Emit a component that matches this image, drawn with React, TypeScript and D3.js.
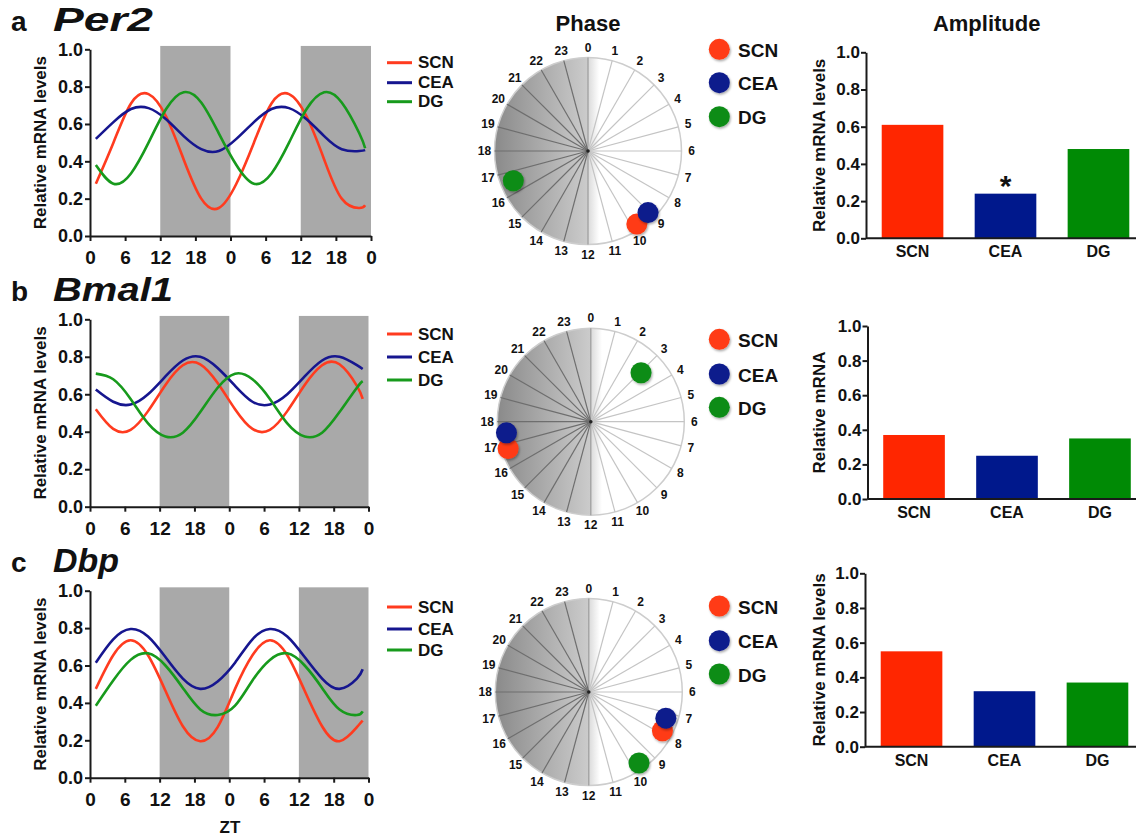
import React, { useEffect, useRef } from 'react';
import * as d3 from 'd3';

// Tissues / colours
const TISSUES = ['SCN', 'CEA', 'DG'];
const LINE_COLORS = ['#ff3b1f', '#16168f', '#179a1c'];
const BAR_COLORS = ['#ff2600', '#00188c', '#008a05'];
const DOT_COLORS = ['#ff3a12', '#0b1a8c', '#0b8c16'];

// x axis (ZT hours, two days)
const ZT_HOURS = [1, 4, 7, 10, 13, 16, 19, 22, 25, 28, 31, 34, 37, 40, 43, 46, 47];
const X_TICKS = [0, 6, 12, 18, 24, 30, 36, 42, 48];
const X_TICK_LABELS = ['0', '6', '12', '18', '0', '6', '12', '18', '0'];
const DARK_PERIODS = [[12, 24], [36, 48]];
const Y_TICKS = [0, 0.2, 0.4, 0.6, 0.8, 1.0];
const CLOCK_HOURS = [0, 1, 2, 3, 4, 5, 6, 7, 8, 9, 10, 11, 12, 13, 14, 15, 16, 17, 18, 19, 20, 21, 22, 23];

// Per2 curves
const per2SCN = [0.28, 0.5, 0.71, 0.76, 0.64, 0.41, 0.2, 0.15, 0.28, 0.5, 0.71, 0.76, 0.64, 0.41, 0.2, 0.15, 0.165];
const per2CEA = [0.52, 0.61, 0.68, 0.685, 0.625, 0.535, 0.465, 0.455, 0.52, 0.61, 0.68, 0.685, 0.625, 0.535, 0.465, 0.455, 0.46];
const per2DG = [0.38, 0.28, 0.335, 0.5, 0.68, 0.77, 0.715, 0.55, 0.38, 0.28, 0.335, 0.5, 0.68, 0.77, 0.715, 0.55, 0.47];
// Bmal1 curves
const bmal1SCN = [0.52, 0.415, 0.41, 0.51, 0.65, 0.755, 0.76, 0.66, 0.52, 0.415, 0.41, 0.51, 0.65, 0.755, 0.76, 0.645, 0.575];
const bmal1CEA = [0.625, 0.56, 0.545, 0.6, 0.695, 0.78, 0.8, 0.74, 0.645, 0.56, 0.545, 0.6, 0.695, 0.78, 0.8, 0.755, 0.735];
const bmal1DG = [0.71, 0.68, 0.575, 0.445, 0.375, 0.395, 0.505, 0.635, 0.71, 0.68, 0.575, 0.445, 0.375, 0.395, 0.505, 0.635, 0.67];
// Dbp curves
const dbpSCN = [0.475, 0.655, 0.735, 0.655, 0.465, 0.275, 0.195, 0.27, 0.475, 0.655, 0.735, 0.655, 0.465, 0.275, 0.195, 0.27, 0.305];
const dbpCEA = [0.615, 0.74, 0.795, 0.755, 0.645, 0.53, 0.475, 0.515, 0.615, 0.74, 0.795, 0.755, 0.645, 0.53, 0.475, 0.53, 0.58];
const dbpDG = [0.385, 0.52, 0.63, 0.665, 0.6, 0.48, 0.365, 0.335, 0.385, 0.52, 0.63, 0.665, 0.6, 0.48, 0.365, 0.335, 0.355];

// Phase (peak hour) and radial position
const phasePer2 = [9.75, 9.05, 16.55];
const phaseRPer2 = [0.94, 0.92, 0.86];
const phaseBmal1 = [16.8, 17.5, 3.05];
const phaseRBmal1 = [0.93, 0.91, 0.75];
const phaseDbp = [7.85, 7.25, 9.65];
const phaseRDbp = [0.89, 0.87, 0.93];

// Amplitudes
const ampPer2 = [0.61, 0.24, 0.48];
const ampBmal1 = [0.37, 0.25, 0.35];
const ampDbp = [0.55, 0.32, 0.37];

const FONT = '"Liberation Sans", Arial, Helvetica, sans-serif';

const ROWS = [
  {
    letter: 'a', gene: 'Per2', geneWidth: 100, series: [per2SCN, per2CEA, per2DG],
    phase: phasePer2, phaseR: phaseRPer2, amp: ampPer2, star: true, barTitle: 'Relative mRNA levels',
    titleY: 31, line: { top: 49.3, bottom: 236, left: 90, right: 371 }, legendYs: [62.7, 82.7, 101.7],
    phaseC: [588, 151], phaseLegendYs: [49.3, 82.7, 116.7], bar: { top: 52.3, bottom: 238.3, left: 866 },
  },
  {
    letter: 'b', gene: 'Bmal1', geneWidth: 120, series: [bmal1SCN, bmal1CEA, bmal1DG],
    phase: phaseBmal1, phaseR: phaseRBmal1, amp: ampBmal1, star: false, barTitle: 'Relative mRNA',
    titleY: 301, line: { top: 319.3, bottom: 506.7, left: 90, right: 368.5 }, legendYs: [334, 357, 380],
    phaseC: [590.8, 421.7], phaseLegendYs: [339.3, 374, 407.3], bar: { top: 326, bottom: 499, left: 867.5 },
  },
  {
    letter: 'c', gene: 'Dbp', geneWidth: 66, series: [dbpSCN, dbpCEA, dbpDG],
    phase: phaseDbp, phaseR: phaseRDbp, amp: ampDbp, star: false, barTitle: 'Relative mRNA levels',
    titleY: 572, line: { top: 590.7, bottom: 777.7, left: 90, right: 368.5 }, legendYs: [607, 629, 650],
    phaseC: [588.8, 692], phaseLegendYs: [606, 640.7, 674], bar: { top: 573.3, bottom: 746.7, left: 865 },
  },
];

function styleAxis(g: any, fontSize: number) {
  g.select('.domain').attr('stroke', '#1a1a1a').attr('stroke-width', 2);
  g.selectAll('.tick line').attr('stroke', '#1a1a1a').attr('stroke-width', 2);
  g.selectAll('.tick text')
    .attr('font-family', FONT)
    .attr('font-weight', 'bold')
    .attr('font-size', fontSize)
    .attr('fill', '#111');
}

export default function App() {
  const svgRef = useRef<SVGSVGElement | null>(null);

  useEffect(() => {
    if (!svgRef.current) return;
    const svg = d3.select(svgRef.current);
    svg.selectAll('*').remove();

    const defs = svg.append('defs');
    const grad = defs.append('linearGradient').attr('id', 'phaseGrad')
      .attr('x1', 0).attr('x2', 1).attr('y1', 0).attr('y2', 0);
    grad.append('stop').attr('offset', '0%').attr('stop-color', '#8a8a8a');
    grad.append('stop').attr('offset', '49.6%').attr('stop-color', '#cbcbcb');
    grad.append('stop').attr('offset', '50%').attr('stop-color', '#dadada');
    grad.append('stop').attr('offset', '56%').attr('stop-color', '#ffffff');
    grad.append('stop').attr('offset', '100%').attr('stop-color', '#ffffff');
    const shadow = defs.append('filter').attr('id', 'dotShadow')
      .attr('x', '-50%').attr('y', '-50%').attr('width', '200%').attr('height', '200%');
    shadow.append('feDropShadow').attr('dx', 1).attr('dy', 1.5)
      .attr('stdDeviation', 1.3).attr('flood-color', '#000').attr('flood-opacity', 0.35);

    const text = (x: number, y: number, s: string, size: number, opts: any = {}) => {
      const t = svg.append('text')
        .attr('x', x).attr('y', y)
        .attr('font-family', FONT)
        .attr('font-weight', 'bold')
        .attr('font-size', size)
        .attr('font-style', opts.italic ? 'italic' : 'normal')
        .attr('text-anchor', opts.anchor || 'start')
        .attr('dominant-baseline', opts.baseline || 'auto')
        .attr('fill', '#111')
        .text(s);
      if (opts.width) t.attr('textLength', opts.width).attr('lengthAdjust', 'spacingAndGlyphs');
      return t;
    };

    // column titles
    text(588, 31, 'Phase', 22, { anchor: 'middle' });
    text(986.7, 31, 'Amplitude', 22, { anchor: 'middle' });

    ROWS.forEach((row) => {
      // panel letter and gene
      text(11, row.titleY, row.letter, 28);
      text(53, row.titleY, row.gene, 33, { italic: true, width: row.geneWidth });

      // ---- line chart ----
      const L = row.line;
      const x = d3.scaleLinear().domain([0, 48]).range([L.left, L.right]);
      const y = d3.scaleLinear().domain([0, 1]).range([L.bottom, L.top]);
      const lg = svg.append('g');

      DARK_PERIODS.forEach(([a, b]) => {
        lg.append('rect')
          .attr('x', x(a)).attr('y', y(1.018))
          .attr('width', x(b) - x(a)).attr('height', y(0) - y(1.018))
          .attr('fill', '#a9a9a9');
      });

      const line = d3.line<number>()
        .x((d, i) => x(ZT_HOURS[i]))
        .y((d) => y(d))
        .curve(d3.curveNatural);

      row.series.forEach((s, i) => {
        lg.append('path')
          .datum(s)
          .attr('d', line)
          .attr('fill', 'none')
          .attr('stroke', LINE_COLORS[i])
          .attr('stroke-width', 2.6);
      });

      const yAx = lg.append('g').attr('transform', `translate(${L.left},0)`)
        .call(d3.axisLeft(y).tickValues(Y_TICKS).tickFormat(d3.format('.1f')).tickSize(5).tickSizeOuter(0).tickPadding(2));
      styleAxis(yAx, 18);
      const xAx = lg.append('g').attr('transform', `translate(0,${L.bottom})`)
        .call(d3.axisBottom(x).tickValues(X_TICKS).tickFormat((d, i) => X_TICK_LABELS[i]).tickSize(5).tickSizeOuter(0).tickPadding(10));
      styleAxis(xAx, 19);

      svg.append('text')
        .attr('transform', `translate(46,${(L.top + L.bottom) / 2}) rotate(-90)`)
        .attr('text-anchor', 'middle')
        .attr('font-family', FONT).attr('font-weight', 'bold').attr('font-size', 17)
        .attr('fill', '#111')
        .text('Relative mRNA levels');

      TISSUES.forEach((t, i) => {
        lg.append('line')
          .attr('x1', 387).attr('x2', 412)
          .attr('y1', row.legendYs[i]).attr('y2', row.legendYs[i])
          .attr('stroke', LINE_COLORS[i]).attr('stroke-width', 3);
        text(418, row.legendYs[i], t, 17, { baseline: 'central' });
      });

      // ---- phase clock ----
      const [cx, cy] = row.phaseC;
      const R = 93.5;
      const pg = svg.append('g');
      pg.append('circle').attr('cx', cx).attr('cy', cy).attr('r', R)
        .attr('fill', 'url(#phaseGrad)').attr('stroke', '#cdcdcd').attr('stroke-width', 1.5);
      const ang = d3.scaleLinear().domain([0, 24]).range([0, 2 * Math.PI]);
      CLOCK_HOURS.forEach((h) => {
        const a = ang(h);
        const col = h === 0 || h === 12 ? '#9a9a9a' : h > 12 ? '#6e6e6e' : '#c4c4c4';
        pg.append('line')
          .attr('x1', cx).attr('y1', cy)
          .attr('x2', cx + R * Math.sin(a)).attr('y2', cy - R * Math.cos(a))
          .attr('stroke', col).attr('stroke-width', 1.2);
        const lr = R + 10;
        pg.append('text')
          .attr('x', cx + lr * Math.sin(a)).attr('y', cy - lr * Math.cos(a))
          .attr('text-anchor', 'middle').attr('dominant-baseline', 'central')
          .attr('font-family', FONT).attr('font-weight', 'bold').attr('font-size', 12)
          .attr('fill', '#111')
          .text(String(h));
      });
      pg.append('circle').attr('cx', cx).attr('cy', cy).attr('r', 1.8).attr('fill', '#222');

      [0, 1, 2].forEach((i) => {
        const a = ang(row.phase[i]);
        const rr = R * row.phaseR[i];
        pg.append('circle')
          .attr('cx', cx + rr * Math.sin(a)).attr('cy', cy - rr * Math.cos(a))
          .attr('r', 10.5).attr('fill', DOT_COLORS[i]).attr('filter', 'url(#dotShadow)');
      });

      TISSUES.forEach((t, i) => {
        pg.append('circle').attr('cx', 719.3).attr('cy', row.phaseLegendYs[i]).attr('r', 10.5)
          .attr('fill', DOT_COLORS[i]).attr('filter', 'url(#dotShadow)');
        text(738, row.phaseLegendYs[i] + 1, t, 19, { baseline: 'central' });
      });

      // ---- amplitude bars ----
      const B = row.bar;
      const by = d3.scaleLinear().domain([0, 1]).range([B.bottom, B.top]);
      const bx = d3.scaleBand().domain(TISSUES).range([B.left, B.left + 279])
        .paddingInner(0.337).paddingOuter(0.169);
      const bg = svg.append('g');
      TISSUES.forEach((t, i) => {
        bg.append('rect')
          .attr('x', bx(t) as number).attr('y', by(row.amp[i]))
          .attr('width', bx.bandwidth()).attr('height', by(0) - by(row.amp[i]))
          .attr('fill', BAR_COLORS[i]);
        text((bx(t) as number) + bx.bandwidth() / 2, B.bottom + 19, t, 16, { anchor: 'middle' });
      });
      const bAx = bg.append('g').attr('transform', `translate(${B.left},0)`)
        .call(d3.axisLeft(by).tickValues(Y_TICKS).tickFormat(d3.format('.1f')).tickSize(5).tickSizeOuter(0).tickPadding(1));
      styleAxis(bAx, 17);
      bg.append('line').attr('x1', B.left).attr('x2', 1136)
        .attr('y1', B.bottom).attr('y2', B.bottom)
        .attr('stroke', '#1a1a1a').attr('stroke-width', 2);
      svg.append('text')
        .attr('transform', `translate(825,${(B.top + B.bottom) / 2}) rotate(-90)`)
        .attr('text-anchor', 'middle')
        .attr('font-family', FONT).attr('font-weight', 'bold').attr('font-size', 17)
        .attr('fill', '#111')
        .text(row.barTitle);
      if (row.star) {
        text((bx('CEA') as number) + bx.bandwidth() / 2, by(row.amp[1]) + 2, '*', 30, { anchor: 'middle' });
      }
    });

    text(230, 827, 'ZT', 17, { anchor: 'middle', baseline: 'central' });
  }, []);

  return (
    <svg
      ref={svgRef}
      width={1136}
      height={839}
      style={{ position: 'absolute', left: 0, top: 0, background: '#fff' }}
    />
  );
}
